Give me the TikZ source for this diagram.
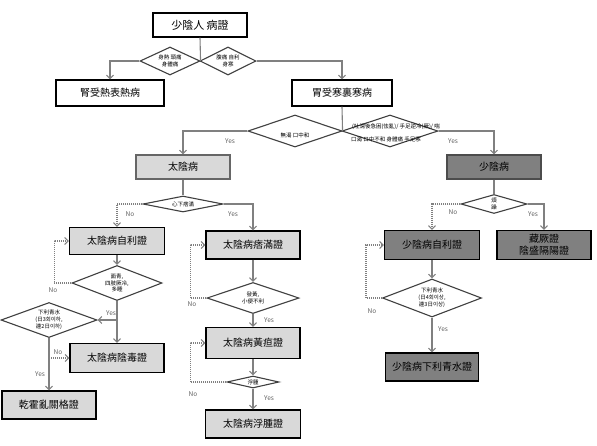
\documentclass[tikz,border=0pt]{standalone}
\usepackage{fontspec}
\setmainfont{Noto Sans CJK KR}
\usetikzlibrary{shapes.geometric,arrows.meta}
\definecolor{lnc}{HTML}{808080}
\definecolor{dic}{HTML}{404040}
\definecolor{lightf}{HTML}{D9D9D9}
\definecolor{darkf}{HTML}{808080}
\definecolor{labc}{HTML}{606060}
\tikzset{
  bx/.style={draw=black, line width=1.3pt, inner sep=0pt, font=\fontsize{10}{12}\selectfont, align=center},
  bxw/.style={bx, fill=white},
  bxl/.style={bx, fill=lightf},
  bxd/.style={bx, fill=darkf},
  dia/.style={diamond, draw=dic, line width=1.1pt, fill=white, inner sep=0pt},
  dtx/.style={font=\fontsize{5.5}{6.8}\selectfont, align=center, inner sep=0pt},
  conn/.style={draw=lnc, line width=1.1pt},
  arr/.style={conn, -{Straight Barb[length=3.5pt,width=7pt]}},
  dotarr/.style={arr, dash pattern=on 1pt off 1pt},
  lab/.style={font=\fontsize{6.5}{7}\selectfont, text=labc, inner sep=0pt}
}
\begin{document}
\begin{tikzpicture}[x=1pt,y=-1pt]
\useasboundingbox (0,0) rectangle (597,445);
% top
\node[bxw, minimum width=94pt, minimum height=24pt, font=\fontsize{11}{12}\selectfont] (t) at (200,25) {少陰人 病證};
\node[dia, minimum width=60pt, minimum height=28pt] (d1) at (170,61) {};
\node[dtx] (d1t) at (170,61) {身熱 頭痛\\身體痛};
\node[dia, minimum width=56pt, minimum height=28pt] (d2) at (228,61) {};
\node[dtx] (d2t) at (228,61) {腹痛 自利\\身寒};
\node[bxw, minimum width=108pt, minimum height=26pt] (b1) at (110,93) {腎受熱表熱病};
\node[bxw, minimum width=100pt, minimum height=26pt] (b2) at (342,93) {胃受寒裏寒病};
% second level
\node[dia, minimum width=94pt, minimum height=32pt] (d3) at (295,131) {};
\node[dtx] (d3t) at (295,135) {無渴 口中和};
\node[dia, minimum width=96pt, minimum height=32pt] (d4) at (390,131) {};
\node[dtx, anchor=west] (d4a) at (352,127) {(吐瀉後急困(怯亂)/ 手足逆冷(厥)/ 喘};
\node[dtx, anchor=west] (d4b) at (351,139) {口渴 口中不和 身體痛 手足寒};
\node[bxl, draw=gray!80!black, line width=1.1pt, minimum width=94pt, minimum height=24pt] (ty) at (183,167) {太陰病};
\node[bxd, draw=gray!60!black, line width=1.1pt, minimum width=94pt, minimum height=24pt] (sy) at (494,167) {少陰病};
% taeeum branch
\node[dia, minimum width=80pt, minimum height=16pt] (d5) at (183,204) {};
\node[dtx] (d5t) at (183,204) {心下痞滿};
\node[bxl, minimum width=95pt, minimum height=27pt] (b3) at (117,241) {太陰病自利證};
\node[bxl, minimum width=94pt, minimum height=28pt] (b4) at (253,245) {太陰病痞滿證};
\node[dia, minimum width=90pt, minimum height=35pt] (d6) at (117,283) {};
\node[dtx] (d6t) at (117,283) {面青,\\四肢厥冷,\\多睡};
\node[bxl, minimum width=94pt, minimum height=29pt] (b5) at (117,358) {太陰病陰毒證};
\node[dia, minimum width=96pt, minimum height=35pt] (d7) at (49,320) {};
\node[dtx] (d7t) at (49,320) {下利青水\\(日3회이하,\\連2日이하)};
\node[bxl, minimum width=94pt, minimum height=28pt] (b6) at (49,405) {乾霍亂關格證};
\node[dia, minimum width=92pt, minimum height=31pt] (d8) at (253,298) {};
\node[dtx] (d8t) at (253,298) {發黃,\\小便不利};
\node[bxl, minimum width=94pt, minimum height=31pt] (b7) at (253,343) {太陰病黃疸證};
\node[dia, minimum width=52pt, minimum height=12pt] (d9) at (253,382) {};
\node[dtx] (d9t) at (253,382) {浮腫};
\node[bxl, minimum width=95pt, minimum height=28pt] (b8) at (253,424) {太陰病浮腫證};
% soeum branch
\node[dia, minimum width=66pt, minimum height=19pt] (d10) at (494,204) {};
\node[dtx] (d10t) at (494,204) {煩\\躁};
\node[bxd, minimum width=95pt, minimum height=29pt] (b9) at (432,245) {少陰病自利證};
\node[bxd, minimum width=94pt, minimum height=29pt] (b10) at (544,245) {藏厥證\\陰盛隔陽證};
\node[dia, minimum width=99pt, minimum height=38pt] (d11) at (432,298) {};
\node[dtx] (d11t) at (432,298) {下利青水\\(日4회이상,\\連3日이상)};
\node[bxd, minimum width=93pt, minimum height=28pt] (b11) at (432,367) {少陰病下利青水證};
% connectors
\draw[conn] (t.south) -- (d1.east);
\draw[arr] (d1.west) -| (b1.north);
\draw[arr] (d2.east) -| (b2.north);
\draw[conn] (b2.south) -- (d3.east);
\draw[arr] (d3.west) -| (ty.north);
\draw[arr] (d4.east) -| (sy.north);
\draw[conn] (ty.south) -- (d5.north);
\draw[dotarr] (d5.west) -| (b3.north);
\draw[arr] (d5.east) -| (b4.north);
\draw[arr] (b3.south) -- (d6.north);
\draw[dotarr] (d6.west) -- ++(-17,0) |- (b3.west);
\draw[arr] (d6.south) -- (b5.north);
\coordinate (j1) at (117,320);
\draw[arr] (j1) -- (d7.east);
\draw[arr] (d7.south) -- (b6.north);
\coordinate (j2) at (49,358);
\draw[dotarr] (j2) -- (b5.west);
\draw[arr] (b4.south) -- (d8.north);
\draw[dotarr] (d8.west) -- ++(-16,0) |- (b4.west);
\draw[arr] (d8.south) -- (b7.north);
\draw[arr] (b7.south) -- (d9.north);
\draw[dotarr] (d9.west) -- ++(-36,0) |- (b7.west);
\draw[arr] (d9.south) -- (b8.north);
\draw[conn] (sy.south) -- (d10.north);
\draw[dotarr] (d10.west) -| (b9.north);
\draw[arr] (d10.east) -| (b10.north);
\draw[arr] (b9.south) -- (d11.north);
\draw[dotarr] (d11.west) -- ++(-16,0) |- (b9.west);
\draw[arr] (d11.south) -- (b11.north);
% labels
\node[lab] (l1) at (230,141) {Yes};
\node[lab] (l2) at (453,141) {Yes};
\node[lab] (l3) at (130,214) {No};
\node[lab] (l4) at (233,214) {Yes};
\node[lab] (l5) at (53,290) {No};
\node[lab] (l6) at (111,313) {Yes};
\node[lab] (l7) at (40,374) {Yes};
\node[lab] (l8) at (58,352) {No};
\node[lab] (l9) at (192,304) {No};
\node[lab] (l10) at (269,320) {Yes};
\node[lab] (l11) at (193,394) {No};
\node[lab] (l12) at (269,398) {Yes};
\node[lab] (l13) at (453,212) {No};
\node[lab] (l14) at (533,214) {Yes};
\node[lab] (l15) at (372,311) {No};
\node[lab] (l16) at (443,329) {Yes};
\end{tikzpicture}
\end{document}
